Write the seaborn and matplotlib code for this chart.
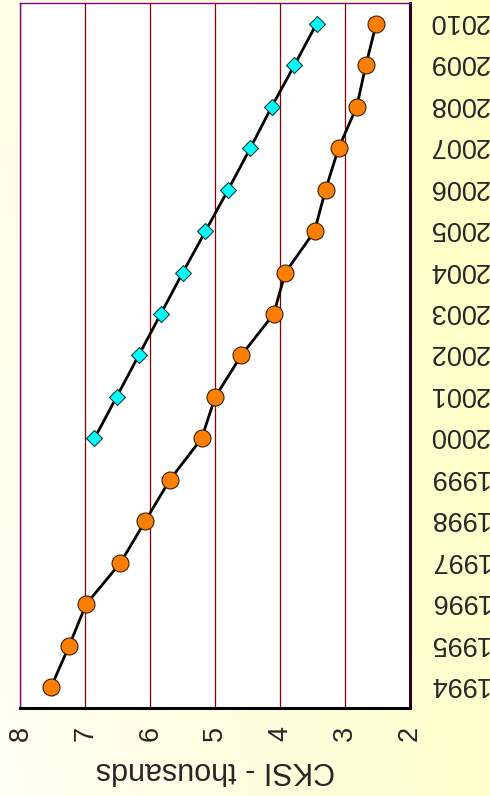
import numpy as np
import pandas as pd
import matplotlib
matplotlib.use("Agg")
import matplotlib.pyplot as plt
import matplotlib.transforms as mtransforms
import seaborn as sns
from matplotlib.colors import LinearSegmentedColormap

# CKSI values (thousands) by year
years_a = list(range(1994, 2011))
cksi_a = [7.53, 7.25, 6.99, 6.46, 6.08, 5.70, 5.21, 5.00, 4.60, 4.10,
          3.92, 3.47, 3.30, 3.10, 2.82, 2.68, 2.52]

years_b = list(range(2000, 2011))
cksi_b = [6.86, 6.52, 6.18, 5.84, 5.50, 5.15, 4.80, 4.46, 4.13, 3.78, 3.44]

value_ticks = [8, 7, 6, 5, 4, 3, 2]
axis_label = "CKSI - thousands"

df_a = pd.DataFrame({"year": years_a, "cksi": cksi_a})
df_b = pd.DataFrame({"year": years_b, "cksi": cksi_b})

sns.set_style("white")
plt.rcParams["font.family"] = ["Liberation Sans", "DejaVu Sans"]

fig = plt.figure(figsize=(4.9, 7.96), dpi=100)

# pale yellow gradient backdrop
bg = fig.add_axes([0, 0, 1, 1], zorder=-10)
gx = np.linspace(0, 1, 256)
gy = np.linspace(0, 1, 256)
G = 0.75 * gx[None, :] + 0.25 * (1 - gy[:, None])
cmap = LinearSegmentedColormap.from_list("bg", ["#FFFFF4", "#FFFFC2"])
bg.imshow(G, cmap=cmap, aspect="auto", extent=[0, 1, 0, 1], origin="upper")
bg.set_axis_off()

ax = fig.add_axes([0.0418, 0.1106, 0.7949, 0.8856])
ax.set_facecolor("white")

sns.lineplot(data=df_a, x="cksi", y="year", orient="y", ax=ax,
             color="black", lw=2.0, marker="o", markersize=12.2,
             markerfacecolor="#FF8000", markeredgecolor="#3a2000",
             markeredgewidth=0.8, zorder=3)
sns.lineplot(data=df_b, x="cksi", y="year", orient="y", ax=ax,
             color="black", lw=2.0, marker="D", markersize=8.2,
             markerfacecolor="#00FFFF", markeredgecolor="#0a3a3a",
             markeredgewidth=0.8, zorder=3)

ax.set_xlim(8, 2)
ax.set_ylim(1993.5, 2010.5)
ax.set_xticks(value_ticks)
ax.set_xticklabels([str(v) for v in value_ticks], rotation=90,
                   fontsize=19.5)
ax.set_yticks(years_a)
ax.yaxis.tick_right()
ax.set_yticklabels([str(y) for y in years_a], rotation=180,
                   fontsize=19.5, va="center")
ax.tick_params(axis="both", length=0, pad=13)

# nudge the upside-down year labels so their digits sit on the row centres
nudge = mtransforms.ScaledTranslation(0, 3 / 100, fig.dpi_scale_trans)
for lbl in ax.get_yticklabels(which="both"):
    lbl.set_transform(lbl.get_transform() + nudge)

ax.xaxis.grid(True, color="#8B0000", lw=0.9)
ax.yaxis.grid(False)
ax.set_axisbelow(True)

ax.set_xlabel(axis_label, rotation=180, fontsize=22, labelpad=10)
ax.set_ylabel("")

for side in ("left", "top"):
    ax.spines[side].set_color("#800080")
    ax.spines[side].set_linewidth(1.0)
ax.spines["bottom"].set_color("black")
ax.spines["bottom"].set_linewidth(2.2)
ax.spines["right"].set_color("#2a002a")
ax.spines["right"].set_linewidth(2.2)
for s in ax.spines.values():
    s.set_visible(True)

fig.savefig("out.png", dpi=100)
